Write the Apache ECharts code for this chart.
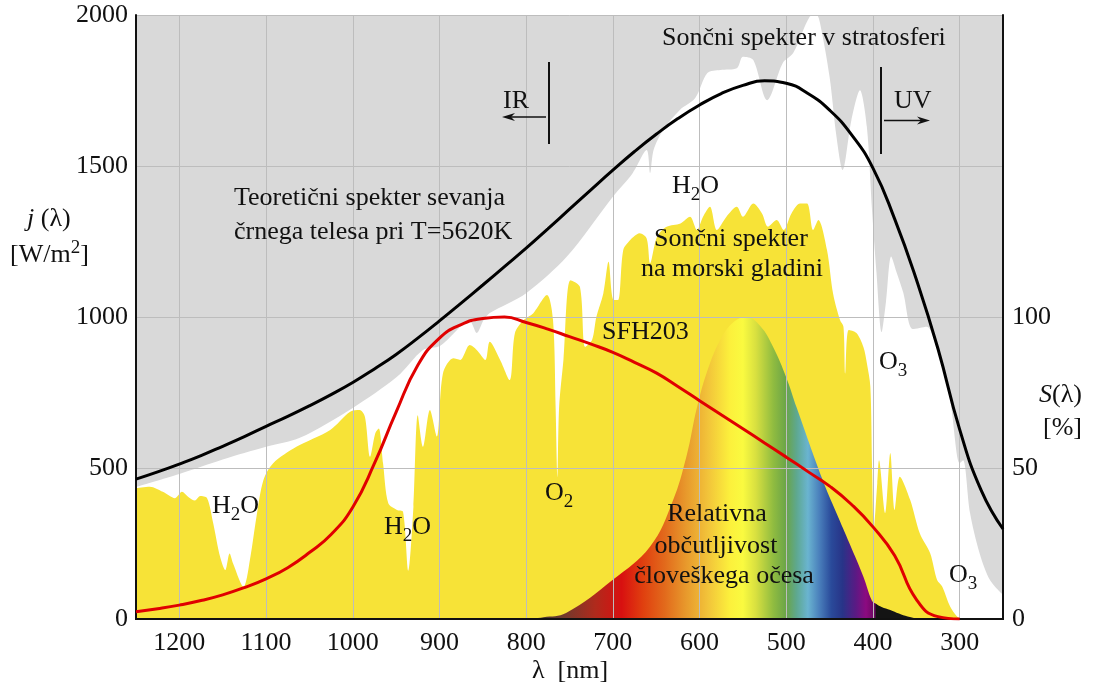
<!DOCTYPE html>
<html>
<head>
<meta charset="utf-8">
<title>Sončni spekter</title>
<script src="https://cdn.jsdelivr.net/npm/echarts@6/dist/echarts.min.js"></script>
<style>
  html, body { margin: 0; padding: 0; background: #ffffff; }
  #chart { width: 1093px; height: 687px; }
</style>
</head>
<body>
<div id="chart"></div>
<script>
// Solar spectrum in the stratosphere (upper white area), W/m² per µm
const stratoNm = [1250,1200,1150,1100,1061,1000,949,919,899,865,857,849,842,800,753,700,677,661,657,653,642,623,605,591,576,557,550,538,522,504,492,473,465,461,450,442,435,425,415,407,401,396,390,385,379,373,365,354,338,326,311,300,296,288,277,265,250];
const stratoW = [437,480,528,570,600,699,802,891,905,985,947,990,1013,1079,1200,1398,1477,1553,1477,1553,1619,1685,1725,1808,1818,1824,1862,1851,1718,1841,1874,1994,2000,1973,1795,1596,1487,1650,1751,1629,1350,1150,950,1050,1200,1150,1080,960,968,891,725,516,526,351,218,129,80];

// Solar spectrum at sea level (yellow area)
const seaNm = [1250,1234,1219,1205,1197,1190,1182,1176,1168,1161,1153,1147,1142,1138,1126,1118,1111,1103,1092,1065,1026,1003,992,986,980,974,970,965,959,949,942,936,930,925,919,911,903,896,884,876,865,857,847,842,830,819,813,803,792,776,769,766,764,762,757,749,738,732,724,719,711,705,700,694,688,680,676,669,661,657,649,638,622,611,603,596,588,580,569,557,550,538,528,521,511,503,494,484,476,469,463,453,446,438,434,432,428,419,411,407,403,401,399,395,393,386,380,375,369,357,346,334,326,320,311,303,297,250];
const seaW = [433,438,421,400,421,405,392,407,400,318,206,162,217,184,107,206,339,460,515,570,626,686,692,670,537,615,631,515,383,361,355,160,372,675,570,692,604,813,863,858,907,891,858,918,858,791,946,990,1012,1073,990,700,470,700,858,1122,1100,901,924,1001,1078,1183,1060,1056,1222,1255,1266,1277,1260,1178,1266,1299,1310,1332,1288,1332,1365,1288,1332,1365,1332,1376,1343,1299,1321,1288,1343,1376,1376,1288,1321,1222,1078,990,968,813,957,947,901,847,769,500,300,450,526,351,550,361,471,394,284,218,129,107,41,8,0,0];

// Black body at T = 5620 K, sampled every 25 nm
const bbNm = [1250,1225,1200,1175,1150,1125,1100,1075,1050,1025,1000,975,950,925,900,875,850,825,800,775,750,725,700,675,650,625,600,575,550,525,500,475,450,425,400,375,350,325,300,275,250];
const bbW = [463,487,513,541,572,604,638,671,706,743,783,828,876,930,987,1046,1106,1167,1228,1292,1357,1422,1486,1548,1605,1657,1702,1740,1767,1782,1774,1740,1685,1605,1493,1325,1125,895,628,425,298];

// SFH203 photodiode relative sensitivity, %, sampled every 25 nm
const sfhNm = [1250,1225,1200,1175,1150,1125,1100,1075,1050,1025,1000,975,950,925,900,875,850,825,800,775,750,725,700,675,650,625,600,575,550,525,500,475,450,425,400,375,350,325,300];
const sfhPct = [2.4,3.4,4.6,6.1,8,10.4,13.3,17,22,28,37,51.5,68.5,84,93,97.5,99.5,100,98.2,96,93.5,91,88.3,85,81.5,77,72.3,67.6,63,58.3,53.6,48.8,44,38,30.5,21,6.5,0.8,0];

// Relative sensitivity of the human eye, %
const eyeNm = [800,780,754,700,657,631,615,603,590,575,560,546,530,515,500,488,458,442,427,411,401,396,390,380,370,360,350,340];
const eyePct = [0,0.6,2,13,24,39,54,70,83,93,98.5,100,97,90,80,70,46,35,25,14,6,5,4,3,1.8,0.8,0.2,0];

// Spectrum colours under the eye curve
const eyeColorNm = [800,760,720,690,665,640,615,590,565,550,535,515,500,488,475,462,448,435,420,408,398,396,340];
const eyeColors = ['#2b2b2b','#6a3a2e','#b02a1c','#d81010','#e0400f','#e26a1c','#e89a2c','#f2c43a','#fcf03c','#fafa40','#d8e040','#90bc40','#6aa448','#5ea890','#6ab4d0','#4a80bc','#2a4a9a','#283488','#5a1a84','#8c0a80','#6a0860','#141414','#141414'];

const zip = (xs, ys) => xs.map((x, i) => [x, ys[i]]);

const FONT = '"Liberation Serif", "Times New Roman", serif';
const FS = 26, FS_SMALL = 19;
const INK = '#111111';

const measureCtx = document.createElement('canvas').getContext('2d');
function textWidth(str, font) { measureCtx.font = font; return measureCtx.measureText(str).width; }

// Text made of parts; sub/sup parts are smaller and shifted. (x, baseline) anchor.
function label(x, base, parts, align) {
  if (typeof parts === 'string') parts = [{ t: parts }];
  const fonts = parts.map(p => {
    const size = (p.sub || p.sup) ? FS_SMALL : FS;
    return { size, css: (p.it ? 'italic ' : '') + size + 'px ' + FONT };
  });
  const widths = parts.map((p, i) => textWidth(p.t, fonts[i].css));
  const total = widths.reduce((a, b) => a + b, 0);
  let cur = align === 'center' ? x - total / 2 : (align === 'right' ? x - total : x);
  const out = [];
  parts.forEach((p, i) => {
    const b = base + (p.sub ? 6 : 0) + (p.sup ? -10 : 0);
    out.push({
      type: 'text', x: cur, y: b - 0.34 * fonts[i].size, z: 100,
      style: { text: p.t, font: fonts[i].css, fill: INK, align: 'left', verticalAlign: 'middle' }
    });
    cur += widths[i];
  });
  return out;
}

function arrow(x1, x2, y) {
  const dir = Math.sign(x2 - x1);
  return [
    { type: 'line', z: 100, shape: { x1: x1, y1: y, x2: x2 - dir * 6, y2: y }, style: { stroke: INK, lineWidth: 1.6 } },
    { type: 'polygon', z: 100, shape: { points: [[x2, y], [x2 - dir * 13, y - 4], [x2 - dir * 9, y], [x2 - dir * 13, y + 4]] }, style: { fill: INK } }
  ];
}
function vbar(x, y1, y2) {
  return { type: 'line', z: 100, shape: { x1: x, y1: y1, x2: x, y2: y2 }, style: { stroke: INK, lineWidth: 2 } };
}

const eyeMax = Math.max(...eyeNm), eyeMin = Math.min(...eyeNm);
const eyeGradient = new echarts.graphic.LinearGradient(0, 0, 1, 0,
  eyeColorNm.map((nm, i) => ({ offset: (eyeMax - nm) / (eyeMax - eyeMin), color: eyeColors[i] })));

const graphics = [].concat(
  label(662, 47, 'Sončni spekter v stratosferi'),
  label(503, 110, 'IR'), arrow(546, 502, 117), [vbar(549, 62, 144)],
  label(894, 110, 'UV'), arrow(884, 930, 120.5), [vbar(881, 67, 154)],
  label(234, 207, 'Teoretični spekter sevanja'),
  label(234, 241, 'črnega telesa pri T=5620K'),
  label(672, 195, [{ t: 'H' }, { t: '2', sub: true }, { t: 'O' }]),
  label(654, 248, 'Sončni spekter'),
  label(641, 278, 'na morski gladini'),
  label(602, 341, 'SFH203'),
  label(879, 371, [{ t: 'O' }, { t: '3', sub: true }]),
  label(212, 515, [{ t: 'H' }, { t: '2', sub: true }, { t: 'O' }]),
  label(384, 536, [{ t: 'H' }, { t: '2', sub: true }, { t: 'O' }]),
  label(545, 502, [{ t: 'O' }, { t: '2', sub: true }]),
  label(717, 523, 'Relativna', 'center'),
  label(716, 555, 'občutljivost', 'center'),
  label(724, 585, 'človeškega očesa', 'center'),
  label(949, 584, [{ t: 'O' }, { t: '3', sub: true }]),
  label(27, 228, [{ t: 'j', it: true }, { t: ' (λ)' }]),
  label(10, 264, [{ t: '[W/m' }, { t: '2', sup: true }, { t: ']' }]),
  label(570, 680, 'λ  [nm]', 'center'),
  label(1039, 404, [{ t: 'S', it: true }, { t: '(λ)' }]),
  label(1043, 437, '[%]')
);

const axisText = { fontFamily: FONT, fontSize: FS, color: INK };
const gridLine = { show: true, lineStyle: { color: '#bdbdbd', width: 1 } };
const frame = { show: true, lineStyle: { color: INK, width: 2 } };
const plain = v => String(v);

const chart = echarts.init(document.getElementById('chart'), null, { renderer: 'canvas' });
chart.setOption({
  animation: false,
  backgroundColor: '#ffffff',
  grid: { left: 136, right: 90, top: 15, bottom: 68, show: true, backgroundColor: '#d9d9d9', borderWidth: 0 },
  xAxis: [
    {
      type: 'value', min: 250, max: 1250, splitNumber: 10, inverse: true, z: 3,
      axisLine: frame, axisTick: { show: false },
      axisLabel: Object.assign({ margin: 11, showMinLabel: false, showMaxLabel: false, formatter: plain }, axisText),
      splitLine: gridLine
    },
    {
      type: 'value', min: 250, max: 1250, inverse: true, position: 'top', z: 3,
      axisLine: frame, axisTick: { show: false }, axisLabel: { show: false }, splitLine: { show: false }
    }
  ],
  yAxis: [
    {
      type: 'value', min: 0, max: 2000, interval: 500, z: 3,
      axisLine: frame, axisTick: { show: false },
      axisLabel: Object.assign({ margin: 8, formatter: plain }, axisText),
      splitLine: gridLine
    },
    {
      type: 'value', min: 0, max: 200, interval: 50, position: 'right', z: 3,
      axisLine: frame, axisTick: { show: false },
      axisLabel: Object.assign({ margin: 9, formatter: v => (v <= 100 ? String(v) : '') }, axisText),
      splitLine: { show: false }
    }
  ],
  series: [
    {
      name: 'stratosfera', type: 'line', data: zip(stratoNm, stratoW), smooth: 0.3,
      showSymbol: false, lineStyle: { width: 0 }, areaStyle: { color: '#ffffff', opacity: 1 }, z: 2
    },
    {
      name: 'morska gladina', type: 'line', data: zip(seaNm, seaW), smooth: 0.3,
      showSymbol: false, lineStyle: { width: 0 }, areaStyle: { color: '#f7e337', opacity: 1 }, z: 2
    },
    {
      name: 'oko', type: 'line', yAxisIndex: 1, data: zip(eyeNm, eyePct), smooth: 0.4,
      showSymbol: false, lineStyle: { width: 0 }, areaStyle: { color: eyeGradient, opacity: 1 }, z: 2
    },
    {
      name: 'črno telo', type: 'line', data: zip(bbNm, bbW), smooth: 0.5,
      showSymbol: false, lineStyle: { color: '#000000', width: 3 }, z: 4
    },
    {
      name: 'SFH203', type: 'line', yAxisIndex: 1, data: zip(sfhNm, sfhPct), smooth: 0.5,
      showSymbol: false, lineStyle: { color: '#e00000', width: 3 }, z: 4
    }
  ],
  graphic: graphics
});
</script>
</body>
</html>
